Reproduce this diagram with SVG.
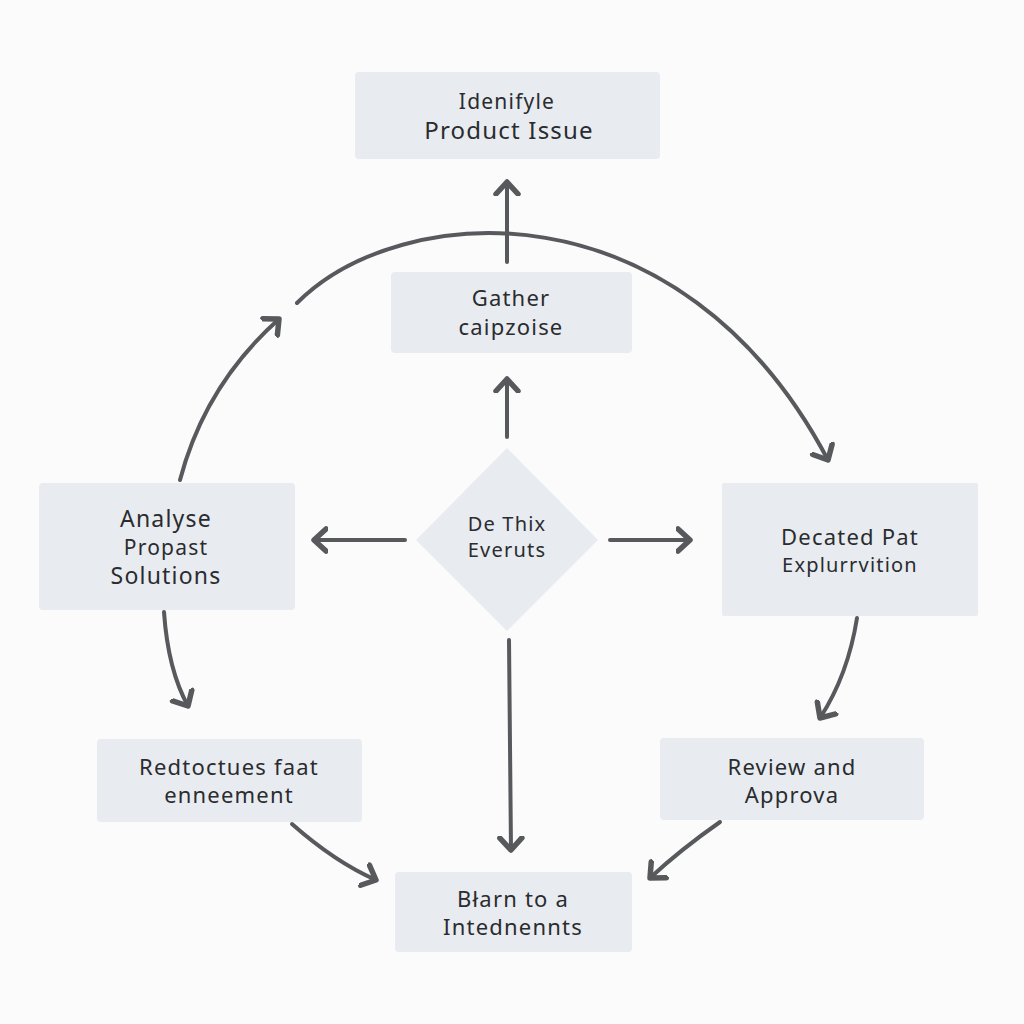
<svg xmlns="http://www.w3.org/2000/svg" width="1024" height="1024" viewBox="0 0 1024 1024">
<defs>
<style>
.box{fill:#e8ebef;}
.t{font-family:"Noto Sans","Open Sans","DejaVu Sans",sans-serif;fill:#2a2c30;text-anchor:middle;letter-spacing:1.2px;}
.l{fill:none;stroke:#58595c;stroke-width:4;stroke-linecap:round;}
</style>
<marker id="ah" viewBox="-14 -14 28 28" markerWidth="28" markerHeight="28" refX="0" refY="0" orient="auto" markerUnits="userSpaceOnUse">
<path d="M-12,-11 L0,0 L-12,11" fill="none" stroke="#58595c" stroke-width="5.5" stroke-linecap="round" stroke-linejoin="round"/>
</marker>
</defs>
<rect width="1024" height="1024" fill="#fbfbfc"/>
<g id="connectors">
<path class="l" d="M507,262 L507,182" marker-end="url(#ah)"/>
<path class="l" d="M297,303 C400,200 680,180 828,460" marker-end="url(#ah)"/>
<path class="l" d="M180,480 Q205,385 279,319" marker-end="url(#ah)"/>
<path class="l" d="M507,437 L507,379" marker-end="url(#ah)"/>
<path class="l" d="M405,540 L314,540" marker-end="url(#ah)"/>
<path class="l" d="M610,540 L690,540" marker-end="url(#ah)"/>
<path class="l" d="M509,640 L511,850" marker-end="url(#ah)"/>
<path class="l" d="M164,612 Q168,670 188,706" marker-end="url(#ah)"/>
<path class="l" d="M857,618 Q848,675 820,718" marker-end="url(#ah)"/>
<path class="l" d="M292,824 Q335,862 376,880" marker-end="url(#ah)"/>
<path class="l" d="M720,822 Q680,850 650,878" marker-end="url(#ah)"/>
</g>
<g id="identify">
<rect class="box" x="355" y="72" width="305" height="87" rx="4"/>
<text class="t" x="507" y="109" font-size="21">Idenifyle</text>
<text class="t" x="509" y="139" font-size="24">Product Issue</text>
</g>
<g id="gather">
<rect class="box" x="391" y="272" width="241" height="81" rx="4"/>
<text class="t" x="511" y="306" font-size="22">Gather</text>
<text class="t" x="511" y="335" font-size="22">caipzoise</text>
</g>
<g id="diamond">
<polygon class="box" points="507,448 598,540 507,631 416,540"/>
<text class="t" x="507" y="531" font-size="20">De Thix</text>
<text class="t" x="507" y="557" font-size="20">Everuts</text>
</g>
<g id="analyse">
<rect class="box" x="39" y="483" width="256" height="127" rx="4"/>
<text class="t" x="166" y="527" font-size="23">Analyse</text>
<text class="t" x="166" y="555" font-size="21">Propast</text>
<text class="t" x="166" y="584" font-size="23">Solutions</text>
</g>
<g id="decated">
<rect class="box" x="722" y="483" width="256" height="133" rx="2"/>
<text class="t" x="850" y="545" font-size="22">Decated Pat</text>
<text class="t" x="850" y="572" font-size="20">Explurrvition</text>
</g>
<g id="redtoctues">
<rect class="box" x="97" y="739" width="265" height="83" rx="4"/>
<text class="t" x="229" y="775" font-size="22">Redtoctues faat</text>
<text class="t" x="229" y="803" font-size="22">enneement</text>
</g>
<g id="review">
<rect class="box" x="660" y="738" width="264" height="82" rx="4"/>
<text class="t" x="792" y="775" font-size="22">Review and</text>
<text class="t" x="792" y="803" font-size="22">Approva</text>
</g>
<g id="blarn">
<rect class="box" x="395" y="872" width="237" height="80" rx="4"/>
<text class="t" x="513" y="907" font-size="22">Błarn to a</text>
<text class="t" x="513" y="935" font-size="22">Intednennts</text>
</g>
</svg>
